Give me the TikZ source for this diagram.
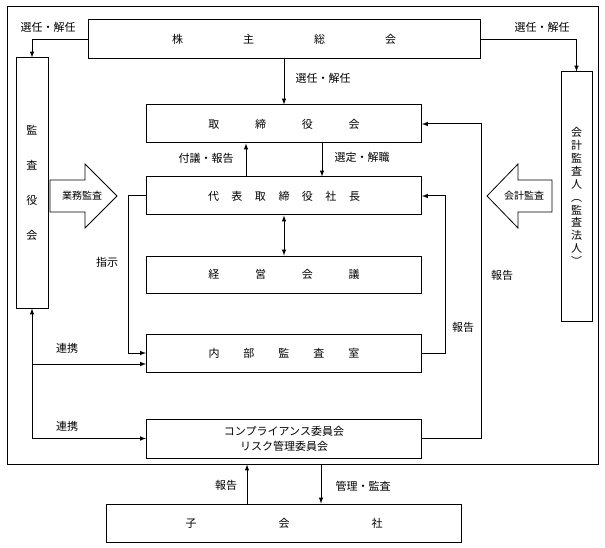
\documentclass[tikz,border=0pt]{standalone}
\usepackage{fontspec}
\setmainfont{Noto Sans CJK JP}
\usetikzlibrary{arrows, positioning, calc}

\begin{document}
\begin{tikzpicture}[
    x=1pt, y=-1pt,
    >=latex,
    body/.style={rectangle, draw, line width=1pt, inner sep=0pt, font=\fontsize{11}{13}\selectfont},
    wide/.style={body, minimum width=275pt, minimum height=38pt},
    pillar/.style={body, minimum width=32pt, minimum height=250pt, align=center},
    link/.style={->, line width=1pt},
    note/.style={font=\fontsize{11}{13}\selectfont, inner sep=0pt},
    bigarrow/.style={draw, line width=0.8pt},
]
\useasboundingbox (0,0) rectangle (605,548);

% Group frame
\node[draw, line width=1pt, minimum width=591pt, minimum height=457pt, inner sep=0pt] (group) at (302.5,235.5) {};

% Shareholders
\node[body, minimum width=392pt, minimum height=39pt] (share) at (284,39.5) {株\hspace{60pt}主\hspace{60pt}総\hspace{60pt}会};

% Boards
\node[wide] (board) at (284,124) {取\hspace{35.7pt}締\hspace{35.7pt}役\hspace{35.7pt}会};
\node[wide] (ceo) at (284,196) {代\hspace{12.5pt}表\hspace{12.5pt}取\hspace{12.5pt}締\hspace{12.5pt}役\hspace{12.5pt}社\hspace{12.5pt}長};
\node[wide, minimum height=37pt] (mgmt) at (284,274.5) {経\hspace{35.7pt}営\hspace{35.7pt}会\hspace{35.7pt}議};
\node[wide] (internal) at (284,353) {内\hspace{24pt}部\hspace{24pt}監\hspace{24pt}査\hspace{24pt}室};
\node[wide, minimum height=39pt, align=center, font=\fontsize{11}{15}\selectfont] (comp) at (284,438.5) {コンプライアンス委員会\\リスク管理委員会};

% Side bodies
\node[pillar, font=\fontsize{11}{35}\selectfont] (kansayaku) at (32,183) {監\\査\\役\\会};
\node[pillar, minimum width=31pt, minimum height=249pt, font=\fontsize{11}{12.9}\selectfont] (auditor) at (576.5,196.5) {会\\計\\監\\査\\人\\︵\\監\\査\\法\\人\\︶};

% Subsidiary
\node[body, minimum width=355pt, minimum height=38pt] (sub) at (284,523) {子\hspace{82pt}会\hspace{82pt}社};

% Block arrows
\draw[bigarrow] (50,180) -- (85,180) -- (85,164) -- (117,196) -- (85,228) -- (85,212) -- (50,212) -- cycle;
\node[note, font=\fontsize{10}{12}\selectfont] (gyomu) at (82,196) {業務監査};
\draw[bigarrow] (552,180) -- (518,180) -- (518,164) -- (487,196) -- (518,228) -- (518,212) -- (552,212) -- cycle;
\node[note, font=\fontsize{10}{12}\selectfont] (kaikei) at (524,196) {会計監査};

% Connectors
\draw[link] (share.west) -| (kansayaku.north);
\draw[link] (share.east) -| (auditor.north);
\draw[link] (share.south) -- (board.north);
\draw[link] ([xshift=-38pt]ceo.north) -- ([xshift=-38pt]board.south);
\draw[link] ([xshift=38pt]board.south) -- ([xshift=38pt]ceo.north);
\draw[link, <->] (ceo.south) -- (mgmt.north);
\draw[link] (ceo.west) -- ++(-18,0) |- (internal.west);
\draw[link] (internal.east) -- ++(23,0) |- (ceo.east);
\draw[link] (comp.east) -- ++(59,0) |- (board.east);

% Liaison with kansayaku
\coordinate (fork) at (kansayaku.south |- comp.west);
\coordinate (liaison) at ([yshift=-11pt]internal.west);
\draw[link] (fork) -- (kansayaku.south);
\draw[link] (fork) -- (comp.west);
\draw[link] (liaison -| kansayaku.south) -- (liaison);

% Subsidiary links
\coordinate (subup) at ([xshift=-37pt]sub.north);
\coordinate (subdown) at ([xshift=37pt]sub.north);
\draw[link] (subup) -- (subup |- group.south);
\draw[link] (subdown |- group.south) -- (subdown);

% Labels
\node[note] (l-kansa) at (48,27) {選任・解任};
\node[note] (l-board) at (323,78) {選任・解任};
\node[note] (l-audit) at (542,27) {選任・解任};
\node[note] (l-fugi) at (206,158) {付議・報告};
\node[note] (l-sentei) at (362,157) {選定・解職};
\node[note] (l-shiji) at (107,262) {指示};
\node[note] (l-hokoku1) at (463,327) {報告};
\node[note] (l-hokoku2) at (502,275) {報告};
\node[note] (l-renkei1) at (67,348) {連携};
\node[note] (l-renkei2) at (67,426) {連携};
\node[note] (l-hokoku3) at (226,485) {報告};
\node[note] (l-kanri) at (363,486) {管理・監査};

\end{tikzpicture}
\end{document}
